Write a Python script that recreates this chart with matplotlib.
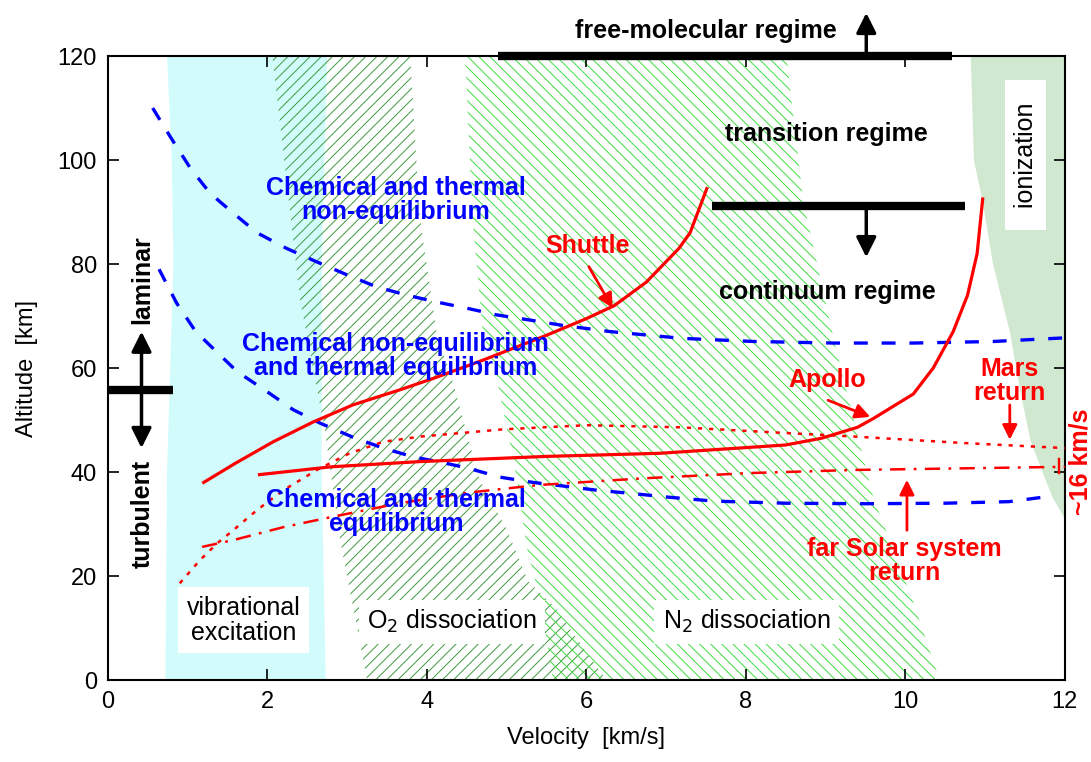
import numpy as np
import matplotlib.pyplot as plt

plt.rcParams['font.family'] = ['Liberation Sans', 'DejaVu Sans']
plt.rcParams['hatch.linewidth'] = 0.7
plt.rcParams['lines.scale_dashes'] = False

# --- regions (velocity km/s, altitude km) ---
# vibrational excitation (cyan band)
vib_left_v = [0.74, 0.80, 0.82, 0.78, 0.74, 0.72]
vib_left_h = [120, 100, 80, 60, 40, 0]
vib_right_v = [2.73, 2.68, 2.68, 2.75]
vib_right_h = [0, 40, 80, 120]

# O2 dissociation (dark hatch)
o2_left_v = [2.06, 2.41, 2.72, 2.91, 3.25]
o2_left_h = [120, 73, 48, 27, 0]
o2_right_v = [6.25, 5.6, 5.27, 5.0, 4.66, 4.33, 4.12, 3.91, 3.79]
o2_right_h = [0, 14, 19, 29, 38.5, 57, 67, 89, 120]

# N2 dissociation (light hatch)
n2_left_v = [4.48, 4.57, 4.70, 4.88, 5.13, 5.25, 5.42, 5.58]
n2_left_h = [120, 89, 67, 57.7, 38.5, 25.6, 15.4, 0]
n2_right_v = [10.43, 10.1, 9.6, 9.14, 8.72, 8.51]
n2_right_h = [0, 15, 35, 63, 92, 120]

# ionization (pale green)
ion_v = [10.82, 10.86, 10.97, 11.1, 11.31, 11.45, 11.57, 11.72, 11.85, 12.0]
ion_h = [120, 100, 92, 80, 67, 55, 46, 40, 35, 31]

# --- equilibrium boundaries (blue dashed) ---
neq_v = [0.56, 0.8, 1.03, 1.28, 1.57, 1.87, 2.24, 2.62, 3.0, 3.37, 3.75, 4.12,
         4.5, 4.88, 5.3, 5.7, 6.3, 7.2, 8.1, 9.1, 10.1, 11.1, 12.0]
neq_h = [110, 104, 98.5, 93.6, 89.8, 86, 83, 80.4, 77.9, 75.6, 74, 72.7,
         71.5, 70.2, 69.2, 68.2, 67, 65.7, 65.1, 64.8, 64.8, 65.1, 65.8]
eq_v = [0.64, 0.86, 1.1, 1.37, 1.62, 2.0, 2.32, 2.66, 3.07, 3.45, 3.83, 4.2,
        4.5, 4.92, 5.33, 5.71, 6.13, 6.55, 7.0, 7.6, 8.5, 9.5, 10.5, 11.3, 11.75]
eq_h = [79, 72.5, 67, 63, 59.3, 55.4, 52, 49.4, 46.7, 44.6, 42.9, 41.8,
        40.8, 39, 38, 37.3, 36.5, 35.9, 35.2, 34.4, 34, 33.9, 34, 34.3, 35.2]

# --- trajectories (red) ---
shuttle_v = [1.2, 1.6, 2.07, 2.57, 3.07, 3.66, 4.08, 4.7, 5.5, 6.0, 6.35, 6.75, 7.16, 7.3, 7.51]
shuttle_h = [38, 41.7, 45.8, 49.6, 52.9, 55.8, 58, 61.5, 66.3, 69.5, 72, 76.5, 83, 86, 94.5]
apollo_v = [1.9, 2.8, 3.91, 5.5, 6.92, 8.5, 8.95, 9.4, 9.6, 10.1, 10.35, 10.6, 10.78, 10.9, 10.97]
apollo_h = [39.5, 41, 42, 43, 43.6, 45.2, 46.5, 48.6, 50.3, 55, 60, 67, 74, 82, 92.5]
mars_v = [0.9, 1.15, 1.37, 1.57, 1.87, 2.2, 2.62, 3.03, 3.45, 3.91, 4.95, 6.0, 7.17, 8.5, 9.38, 10.7, 12.0]
mars_h = [18.6, 23, 26.3, 28.8, 32.7, 36.5, 40.4, 43.6, 45.8, 46.8, 48.2, 49, 48.6, 47.5, 46.8, 45.6, 44.6]
far_v = [1.18, 1.57, 2.2, 2.82, 3.66, 4.5, 5.4, 6.73, 8.05, 9.38, 10.7, 12.0]
far_h = [25.6, 26.9, 29.4, 31.4, 34, 36, 37.5, 38.8, 39.8, 40.4, 40.7, 41]

fig = plt.figure(figsize=(10.91, 7.62), dpi=100)
ax = fig.add_axes([0.099, 0.1076, 0.877, 0.8189])

ax.fill(vib_left_v + vib_right_v, vib_left_h + vib_right_h, color='#d2fcfc', lw=0, zorder=0)
ax.fill(o2_left_v + o2_right_v, o2_left_h + o2_right_h, facecolor='none',
        edgecolor='#3f9a3f', hatch='///', lw=0, zorder=1)
ax.fill(n2_left_v + n2_right_v, n2_left_h + n2_right_h, facecolor='none',
        edgecolor='#3fdc3f', hatch='\\\\\\', lw=0, zorder=1)
ax.fill(ion_v + [12], ion_h + [120], color='#d0e7d0', lw=0, zorder=0)

blue = '#0000ff'
red = '#ff0000'
ax.plot(neq_v, neq_h, color=blue, lw=2.4, ls=(0, (10, 10)), zorder=3)
ax.plot(eq_v, eq_h, color=blue, lw=2.4, ls=(0, (10, 10)), zorder=3)
ax.plot(shuttle_v, shuttle_h, color=red, lw=2.3, zorder=4)
ax.plot(apollo_v, apollo_h, color=red, lw=2.3, zorder=4)
ax.plot(mars_v, mars_h, color=red, lw=1.8, ls=(0, (3, 5)), zorder=4)
ax.plot(far_v, far_h, color=red, lw=1.8, ls=(0, (11, 6, 2, 6)), zorder=4)
ax.plot([11.93, 11.93], [39.8, 42.5], color=red, lw=1.7, zorder=4)

# flow regime bars and arrows
ax.plot([4.89, 10.58], [120, 120], color='black', lw=6, solid_capstyle='butt', clip_on=False, zorder=6)
ax.plot([7.57, 10.75], [91.2, 91.2], color='black', lw=6, solid_capstyle='butt', zorder=6)
ax.plot([0.0, 0.81], [55.8, 55.8], color='black', lw=6, solid_capstyle='butt', clip_on=False, zorder=6)
akw = dict(arrowstyle='-|>', lw=2.5, color='black', mutation_scale=30, shrinkA=0, shrinkB=0)
ax.annotate('', xy=(9.51, 128.3), xytext=(9.51, 120), arrowprops=akw, annotation_clip=False)
ax.annotate('', xy=(9.51, 81.3), xytext=(9.51, 91.2), arrowprops=akw)
ax.annotate('', xy=(0.42, 67), xytext=(0.42, 55.8), arrowprops=akw)
ax.annotate('', xy=(0.42, 44.6), xytext=(0.42, 55.8), arrowprops=akw)

bold = dict(fontsize=18, fontweight='bold', ha='center', va='center')
ax.text(7.5, 124.8, 'free-molecular regime', clip_on=False, **bold)
ax.text(9.01, 105, 'transition regime', **bold)
ax.text(9.02, 74.6, 'continuum regime', **bold)
ax.text(0.43, 77, 'laminar', rotation=90, **bold)
ax.text(0.43, 32, 'turbulent', rotation=90, **bold)

ax.text(3.61, 92.3, 'Chemical and thermal\nnon-equilibrium', color=blue, linespacing=1.0, zorder=5, **bold)
ax.text(3.61, 62.3, 'Chemical non-equilibrium\nand thermal equilibrium', color=blue, linespacing=1.0, zorder=5, **bold)
ax.text(3.61, 32.3, 'Chemical and thermal\nequilibrium', color=blue, linespacing=1.0, zorder=5, **bold)

reg = dict(fontsize=18, ha='center', va='center', zorder=5, linespacing=1.05)
ax.text(1.70, 11.5, 'vibrational\nexcitation', bbox=dict(facecolor='white', edgecolor='none', pad=6), **reg)
ax.text(4.31, 11.2, 'O$_2$ dissociation', bbox=dict(facecolor='white', edgecolor='none', pad=6), **reg)
ax.text(8.01, 11.2, 'N$_2$ dissociation', bbox=dict(facecolor='white', edgecolor='none', pad=6), **reg)
ax.text(11.51, 101, '  ionization  ', rotation=90, bbox=dict(facecolor='white', edgecolor='none', pad=6), **reg)

rkw = dict(arrowstyle='-|>', lw=2, color=red, mutation_scale=22, shrinkA=0, shrinkB=0)
ax.text(6.02, 83.5, 'Shuttle', color=red, **bold)
ax.annotate('', xy=(6.33, 71.5), xytext=(6.03, 79.5), arrowprops=rkw)
ax.text(9.02, 57.7, 'Apollo', color=red, **bold)
ax.annotate('', xy=(9.56, 50.6), xytext=(9.03, 53.8), arrowprops=rkw)
ax.text(11.3, 57.5, 'Mars\nreturn', color=red, linespacing=1.0, **bold)
ax.annotate('', xy=(11.31, 46.2), xytext=(11.31, 52.9), arrowprops=rkw)
ax.text(9.99, 22.8, 'far Solar system\nreturn', color=red, linespacing=1.0, **bold)
ax.annotate('', xy=(10.02, 38.5), xytext=(10.02, 28.8), arrowprops=rkw)
ax.text(12.2, 42, '~16 km/s', color=red, rotation=90, clip_on=False, **bold)

ax.set_xlim(0, 12)
ax.set_ylim(0, 120)
ax.set_xticks(np.arange(0, 13, 2))
ax.set_yticks(np.arange(0, 121, 20))
ax.tick_params(direction='in', length=8, width=1.2, top=True, right=True, labelsize=17, pad=8)
for s in ax.spines.values():
    s.set_linewidth(1.5)
ax.set_xlabel('Velocity  [km/s]', fontsize=17, labelpad=10)
ax.set_ylabel('Altitude  [km]', fontsize=17, labelpad=14)

fig.savefig('out.png', dpi=100)
